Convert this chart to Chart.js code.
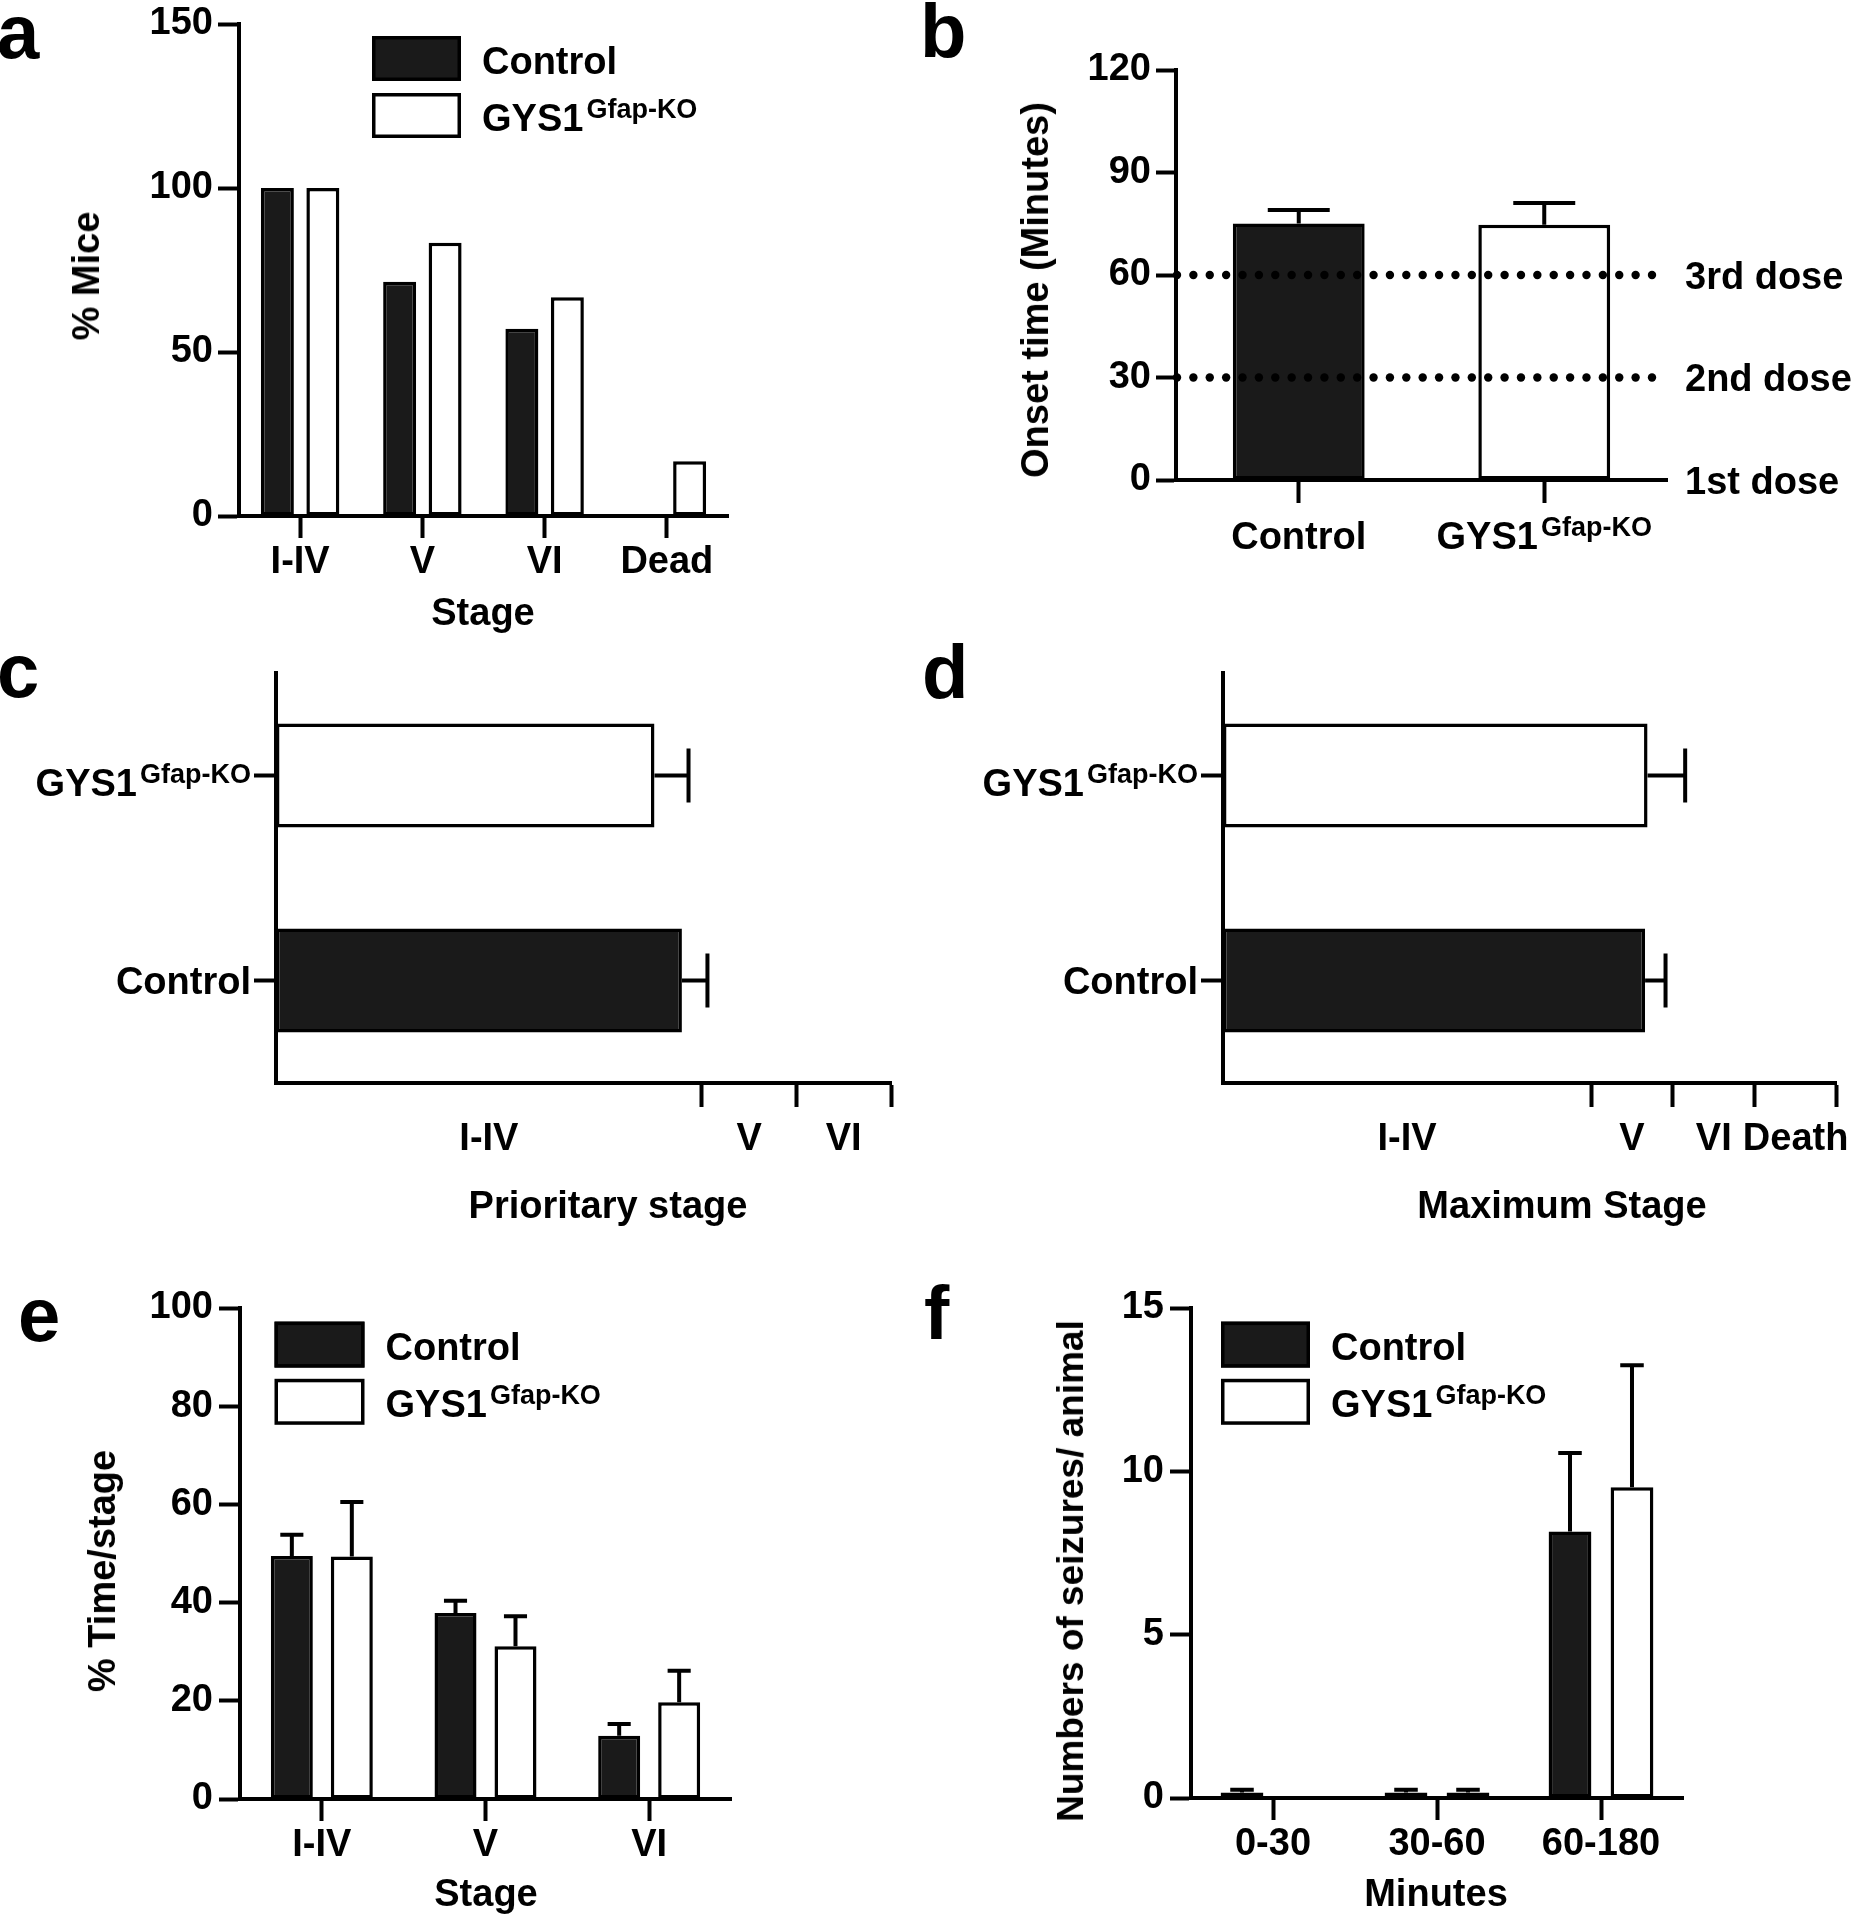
<!DOCTYPE html>
<html>
<head>
<meta charset="utf-8">
<script src="https://cdn.jsdelivr.net/npm/chart.js@4.4.1/dist/chart.umd.min.js"></script>
<style>
  html, body { margin: 0; padding: 0; background: #fff; }
  body { width: 1859px; height: 1920px; position: relative; overflow: hidden;
         font-family: 'Liberation Sans', Arial, sans-serif; font-weight: bold; color: #000; }
  canvas { position: absolute; }
  .lbl { position: absolute; white-space: nowrap; font-size: 38px; line-height: 38px; }
  .ctr { transform: translateX(-50%); }
  .rot { transform: translate(-50%, -50%) rotate(-90deg); }
  .panel { position: absolute; font-size: 76px; line-height: 76px; }
</style>
</head>
<body>
<canvas id="chartA"></canvas>
<canvas id="chartB"></canvas>
<canvas id="chartC"></canvas>
<canvas id="chartD"></canvas>
<canvas id="chartE"></canvas>
<canvas id="chartF"></canvas>

<div class="panel" style="left:-3px;top:-6px">a</div>
<div class="panel" style="left:920px;top:-7px">b</div>
<div class="panel" style="left:-3px;top:633px">c</div>
<div class="panel" style="left:922px;top:634px">d</div>
<div class="panel" style="left:18px;top:1277px">e</div>
<div class="panel" style="left:924px;top:1275px">f</div>

<div class="lbl rot" style="left:86px;top:276px">% Mice</div>
<div class="lbl ctr" style="left:483px;top:593px">Stage</div>
<div class="lbl rot" style="left:1035px;top:290px">Onset time (Minutes)</div>
<div class="lbl ctr" style="left:608px;top:1186px">Prioritary stage</div>
<div class="lbl ctr" style="left:1562px;top:1186px">Maximum Stage</div>
<div class="lbl rot" style="left:102px;top:1571px">% Time/stage</div>
<div class="lbl ctr" style="left:486px;top:1874px">Stage</div>
<div class="lbl rot" style="left:1071px;top:1571px;font-size:37px">Numbers of seizures/ animal</div>
<div class="lbl ctr" style="left:1436px;top:1874px">Minutes</div>

<script>
// ─── DATA ──────────────────────────────────
// a: % mice reaching each stage
const stagesA = ['I-IV', 'V', 'VI', 'Dead'];
const miceControl = [100, 71.4, 57.1, 0];
const miceGys = [100, 83.3, 66.7, 16.7];
const miceTicks = [0, 50, 100, 150];

// b: onset time
const groupsB = ['Control', 'GYS1'];
const groupSupB = ['', 'Gfap-KO'];
const onsetMean = [75.1, 74.7];
const onsetErr = [3.9, 6.4];
const onsetTicks = [0, 30, 60, 90, 120];
const doseAt = [60, 30, 0];
const doseLabels = ['3rd dose', '2nd dose', '1st dose'];
const doseLines = [60, 30];

// c, d: horizontal bars (top to bottom)
const groupsCD = ['GYS1', 'Control'];
const groupSupCD = ['Gfap-KO', ''];
const prioMean = [4.0, 4.29];
const prioErr = [0.36, 0.27];
const prioTicks = [4.5, 5.5, 6.5];
const prioLabels = ['I-IV', 'V', 'VI'];
const prioLabelAt = [2.25, 5, 6];

const maxMean = [5.19, 5.16];
const maxErr = [0.46, 0.25];
const maxTicks = [4.5, 5.5, 6.5, 7.5];
const maxLabels = ['I-IV', 'V', 'VI', 'Death'];
const maxLabelAt = [2.25, 5, 6, 7];

// e: % time per stage
const stagesE = ['I-IV', 'V', 'VI'];
const timeControl = [49.5, 37.9, 12.9];
const timeControlErr = [4.3, 2.5, 2.4];
const timeGys = [49.4, 31.1, 19.7];
const timeGysErr = [11.1, 6.1, 6.4];
const timeTicks = [0, 20, 40, 60, 80, 100];

// f: seizures per animal
const minutesF = ['0-30', '30-60', '60-180'];
const seizControl = [0.17, 0.17, 8.16];
const seizControlErr = [0.08, 0.08, 2.4];
const seizGys = [0, 0.17, 9.51];
const seizGysErr = [0, 0.08, 3.74];
const seizTicks = [0, 5, 10, 15];

// ─── STYLE ─────────────────────────────────
const DARK = '#1a1a1a';
const FONT = "'Liberation Sans', Arial, sans-serif";
const MAIN = `bold 38px ${FONT}`;
const SUP = `bold 27px ${FONT}`;

Chart.defaults.font.family = FONT;
Chart.defaults.font.size = 38;
Chart.defaults.font.weight = 'bold';
Chart.defaults.color = '#000';

// ─── PLUGINS ───────────────────────────────
const errorBars = {
  id: 'errorBars',
  afterDatasetsDraw(chart, args, opts) {
    if (!opts.cap) return;
    const { ctx } = chart;
    const horizontal = chart.options.indexAxis === 'y';
    const vScale = horizontal ? chart.scales.x : chart.scales.y;
    ctx.save();
    ctx.strokeStyle = '#000';
    ctx.lineWidth = 4;
    chart.data.datasets.forEach((ds, di) => {
      if (!ds.errors) return;
      chart.getDatasetMeta(di).data.forEach((bar, i) => {
        const err = ds.errors[i];
        if (!err) return;
        const end = vScale.getPixelForValue(ds.data[i] + err);
        const half = (horizontal ? bar.height : bar.width) * opts.cap / 2;
        ctx.beginPath();
        if (horizontal) {
          ctx.moveTo(bar.x, bar.y); ctx.lineTo(end, bar.y);
          ctx.moveTo(end, bar.y - half); ctx.lineTo(end, bar.y + half);
        } else {
          ctx.moveTo(bar.x, bar.y); ctx.lineTo(bar.x, end);
          ctx.moveTo(bar.x - half, end); ctx.lineTo(bar.x + half, end);
        }
        ctx.stroke();
      });
    });
    ctx.restore();
  }
};

// category labels with a superscript part
const supLabels = {
  id: 'supLabels',
  afterDraw(chart, args, opts) {
    if (!opts.axis) return;
    const scale = chart.scales[opts.axis];
    const { ctx } = chart;
    ctx.save();
    ctx.fillStyle = '#000';
    ctx.textBaseline = 'alphabetic';
    ctx.textAlign = 'left';
    chart.data.labels.forEach((name, i) => {
      const sup = opts.sups[i] || '';
      ctx.font = MAIN;
      const mw = ctx.measureText(name).width;
      ctx.font = SUP;
      const sw = sup ? ctx.measureText(sup).width + 3 : 0;
      const p = scale.getPixelForTick(i);
      let x, y;
      if (scale.isHorizontal()) { x = p - (mw + sw) / 2; y = scale.top + opts.offset; }
      else { x = scale.right - opts.offset - mw - sw; y = p + (sup ? 20 : 13.5); }
      ctx.font = MAIN;
      ctx.fillText(name, x, y);
      if (sup) { ctx.font = SUP; ctx.fillText(sup, x + mw + 3, y - 13); }
    });
    ctx.restore();
  }
};

const boxLegend = {
  id: 'boxLegend',
  afterDraw(chart, args, opts) {
    if (!opts.w) return;
    const { ctx } = chart;
    ctx.save();
    chart.data.datasets.forEach((ds, i) => {
      const y = opts.y + i * opts.step;
      ctx.fillStyle = ds.backgroundColor;
      ctx.fillRect(opts.x, y, opts.w, opts.h);
      ctx.strokeStyle = '#000';
      ctx.lineWidth = 3.5;
      ctx.strokeRect(opts.x + 1.75, y + 1.75, opts.w - 3.5, opts.h - 3.5);
      ctx.fillStyle = '#000';
      ctx.textBaseline = 'alphabetic';
      ctx.textAlign = 'left';
      ctx.font = MAIN;
      const tx = opts.x + opts.w + 21, ty = y + opts.h / 2 + 15;
      ctx.fillText(ds.label, tx, ty);
      if (ds.sup) {
        const mw = ctx.measureText(ds.label).width;
        ctx.font = SUP;
        ctx.fillText(ds.sup, tx + mw + 3, ty - 13);
      }
    });
    ctx.restore();
  }
};

// dotted dose lines + dose labels on the right
const doseMarks = {
  id: 'doseMarks',
  afterDatasetsDraw(chart, args, opts) {
    if (!opts.labels) return;
    const { ctx, chartArea } = chart;
    const y = chart.scales.y;
    ctx.save();
    ctx.fillStyle = '#000';
    const x0 = chartArea.left + 1, x1 = chartArea.right - 15, n = 29;
    opts.lines.forEach(v => {
      const py = y.getPixelForValue(v);
      for (let k = 0; k <= n; k++) {
        ctx.beginPath();
        ctx.arc(x0 + (x1 - x0) * k / n, py, 4.2, 0, Math.PI * 2);
        ctx.fill();
      }
    });
    ctx.font = MAIN;
    ctx.textBaseline = 'alphabetic';
    ctx.textAlign = 'left';
    opts.at.forEach((v, i) => {
      ctx.fillText(opts.labels[i], chartArea.right + 18, y.getPixelForValue(v) + 13.6);
    });
    ctx.restore();
  }
};

Chart.register(errorBars, supLabels, boxLegend, doseMarks);

// ─── HELPERS ───────────────────────────────
function zeroPad(s) {
  s.paddingLeft = 0; s.paddingRight = 0; s.paddingTop = 0; s.paddingBottom = 0;
}

function axis(tl, pad) {
  return {
    border: { display: true, width: 4, color: '#000' },
    grid: { drawOnChartArea: false, drawTicks: true, tickLength: tl, tickWidth: 4, tickColor: '#000', offset: false },
    ticks: { color: '#000', padding: pad, autoSkip: false, maxRotation: 0, minRotation: 0 },
  };
}

function valueAxis(tl, pad, list) {
  const a = axis(tl, pad);
  a.min = list[0];
  a.max = list[list.length - 1];
  a.afterBuildTicks = s => { s.ticks = list.map(v => ({ value: v })); };
  return a;
}

// linear stage axis: tick marks at boundaries, labels in between
function stageAxis(tickVals, labels, labelAt, max) {
  const a = axis(24, 10);
  a.min = 0;
  a.max = max;
  a.afterBuildTicks = s => {
    s.ticks = tickVals.concat(labelAt).sort((p, q) => p - q).map(v => ({ value: v }));
  };
  a.ticks.callback = v => { const i = labelAt.indexOf(v); return i < 0 ? '' : labels[i]; };
  a.grid.tickColor = ctx => tickVals.includes(ctx.tick.value) ? '#000' : 'rgba(0,0,0,0)';
  return a;
}

function fixedChart(id, box, area, config) {
  const cv = document.getElementById(id);
  cv.width = box.w; cv.height = box.h;
  cv.style.left = box.x + 'px'; cv.style.top = box.y + 'px';
  cv.style.width = box.w + 'px'; cv.style.height = box.h + 'px';
  const leftW = area.l - box.x, bottomH = box.y + box.h - area.b;
  const o = config.options;
  o.responsive = false;
  o.animation = false;
  o.devicePixelRatio = 1;
  o.layout = { padding: { left: 0, top: area.t - box.y, right: box.x + box.w - area.r, bottom: 0 } };
  o.plugins = Object.assign({ legend: { display: false }, tooltip: { enabled: false } }, o.plugins);
  o.scales.x.afterFit = s => { s.height = bottomH; zeroPad(s); };
  o.scales.y.afterFit = s => { s.width = leftW; zeroPad(s); };
  return new Chart(cv, config);
}

function barSet(label, data, fill, errors, sup) {
  return { label, sup, data, errors, backgroundColor: fill, borderColor: '#000', borderWidth: 3.5, borderSkipped: false };
}

// ─── PANELS ────────────────────────────────
// a
fixedChart('chartA', { x: 0, y: 0, w: 930, h: 640 }, { l: 239, t: 24, r: 728, b: 516 }, {
  type: 'bar',
  data: {
    labels: stagesA,
    datasets: [
      barSet('Control', miceControl, DARK),
      barSet('GYS1', miceGys, '#fff', null, 'Gfap-KO'),
    ]
  },
  options: {
    categoryPercentage: 0.744,
    barPercentage: 0.725,
    plugins: { boxLegend: { x: 372, y: 36, w: 89, h: 45, step: 57 } },
    scales: {
      x: Object.assign(axis(22, 1.5), { offset: true }),
      y: valueAxis(21, 5, miceTicks),
    }
  }
});

// b
const xB = axis(23, 0);
xB.offset = true;
xB.ticks.callback = () => '';
fixedChart('chartB', { x: 930, y: 0, w: 929, h: 640 }, { l: 1176, t: 70, r: 1667, b: 480 }, {
  type: 'bar',
  data: {
    labels: groupsB,
    datasets: [{
      data: onsetMean, errors: onsetErr,
      backgroundColor: [DARK, '#fff'], borderColor: '#000', borderWidth: 3.5, borderSkipped: false,
    }]
  },
  options: {
    categoryPercentage: 1,
    barPercentage: 0.537,
    plugins: {
      errorBars: { cap: 0.47 },
      supLabels: { axis: 'x', sups: groupSupB, offset: 69 },
      doseMarks: { lines: doseLines, at: doseAt, labels: doseLabels },
    },
    scales: { x: xB, y: valueAxis(20, 5, onsetTicks) }
  }
});

// c and d
function horizontalPanel(id, box, area, mean, err, axisX) {
  const yAx = axis(22, 0);
  yAx.offset = true;
  yAx.ticks.callback = () => '';
  return fixedChart(id, box, area, {
    type: 'bar',
    data: {
      labels: groupsCD,
      datasets: [{
        data: mean, errors: err,
        backgroundColor: ['#fff', DARK], borderColor: '#000', borderWidth: 3.5, borderSkipped: false,
      }]
    },
    options: {
      indexAxis: 'y',
      categoryPercentage: 1,
      barPercentage: 0.507,
      plugins: {
        errorBars: { cap: 0.52 },
        supLabels: { axis: 'y', sups: groupSupCD, offset: 25 },
      },
      scales: { x: axisX, y: yAx }
    }
  });
}

horizontalPanel('chartC', { x: 0, y: 640, w: 930, h: 620 }, { l: 276, t: 673, r: 891, b: 1083 },
  prioMean, prioErr, stageAxis(prioTicks, prioLabels, prioLabelAt, 6.5));
horizontalPanel('chartD', { x: 930, y: 640, w: 929, h: 620 }, { l: 1223, t: 673, r: 1836.5, b: 1083 },
  maxMean, maxErr, stageAxis(maxTicks, maxLabels, maxLabelAt, 7.5));

// e
fixedChart('chartE', { x: 0, y: 1260, w: 930, h: 660 }, { l: 240, t: 1308, r: 731, b: 1799 }, {
  type: 'bar',
  data: {
    labels: stagesE,
    datasets: [
      barSet('Control', timeControl, DARK, timeControlErr),
      barSet('GYS1', timeGys, '#fff', timeGysErr, 'Gfap-KO'),
    ]
  },
  options: {
    categoryPercentage: 0.733,
    barPercentage: 0.70,
    plugins: {
      errorBars: { cap: 0.55 },
      boxLegend: { x: 274.5, y: 61.6, w: 90, h: 46, step: 57.2 },
    },
    scales: {
      x: Object.assign(axis(22, 2), { offset: true }),
      y: valueAxis(21, 6, timeTicks),
    }
  }
});

// f
fixedChart('chartF', { x: 930, y: 1260, w: 929, h: 660 }, { l: 1191, t: 1308, r: 1683, b: 1798 }, {
  type: 'bar',
  data: {
    labels: minutesF,
    datasets: [
      barSet('Control', seizControl, DARK, seizControlErr),
      barSet('GYS1', seizGys, '#fff', seizGysErr, 'Gfap-KO'),
    ]
  },
  options: {
    categoryPercentage: 0.756,
    barPercentage: 0.69,
    plugins: {
      errorBars: { cap: 0.55 },
      boxLegend: { x: 291, y: 61.6, w: 89, h: 46, step: 57.2 },
    },
    scales: {
      x: Object.assign(axis(22, 2), { offset: true }),
      y: valueAxis(21, 6, seizTicks),
    }
  }
});
</script>
</body>
</html>
